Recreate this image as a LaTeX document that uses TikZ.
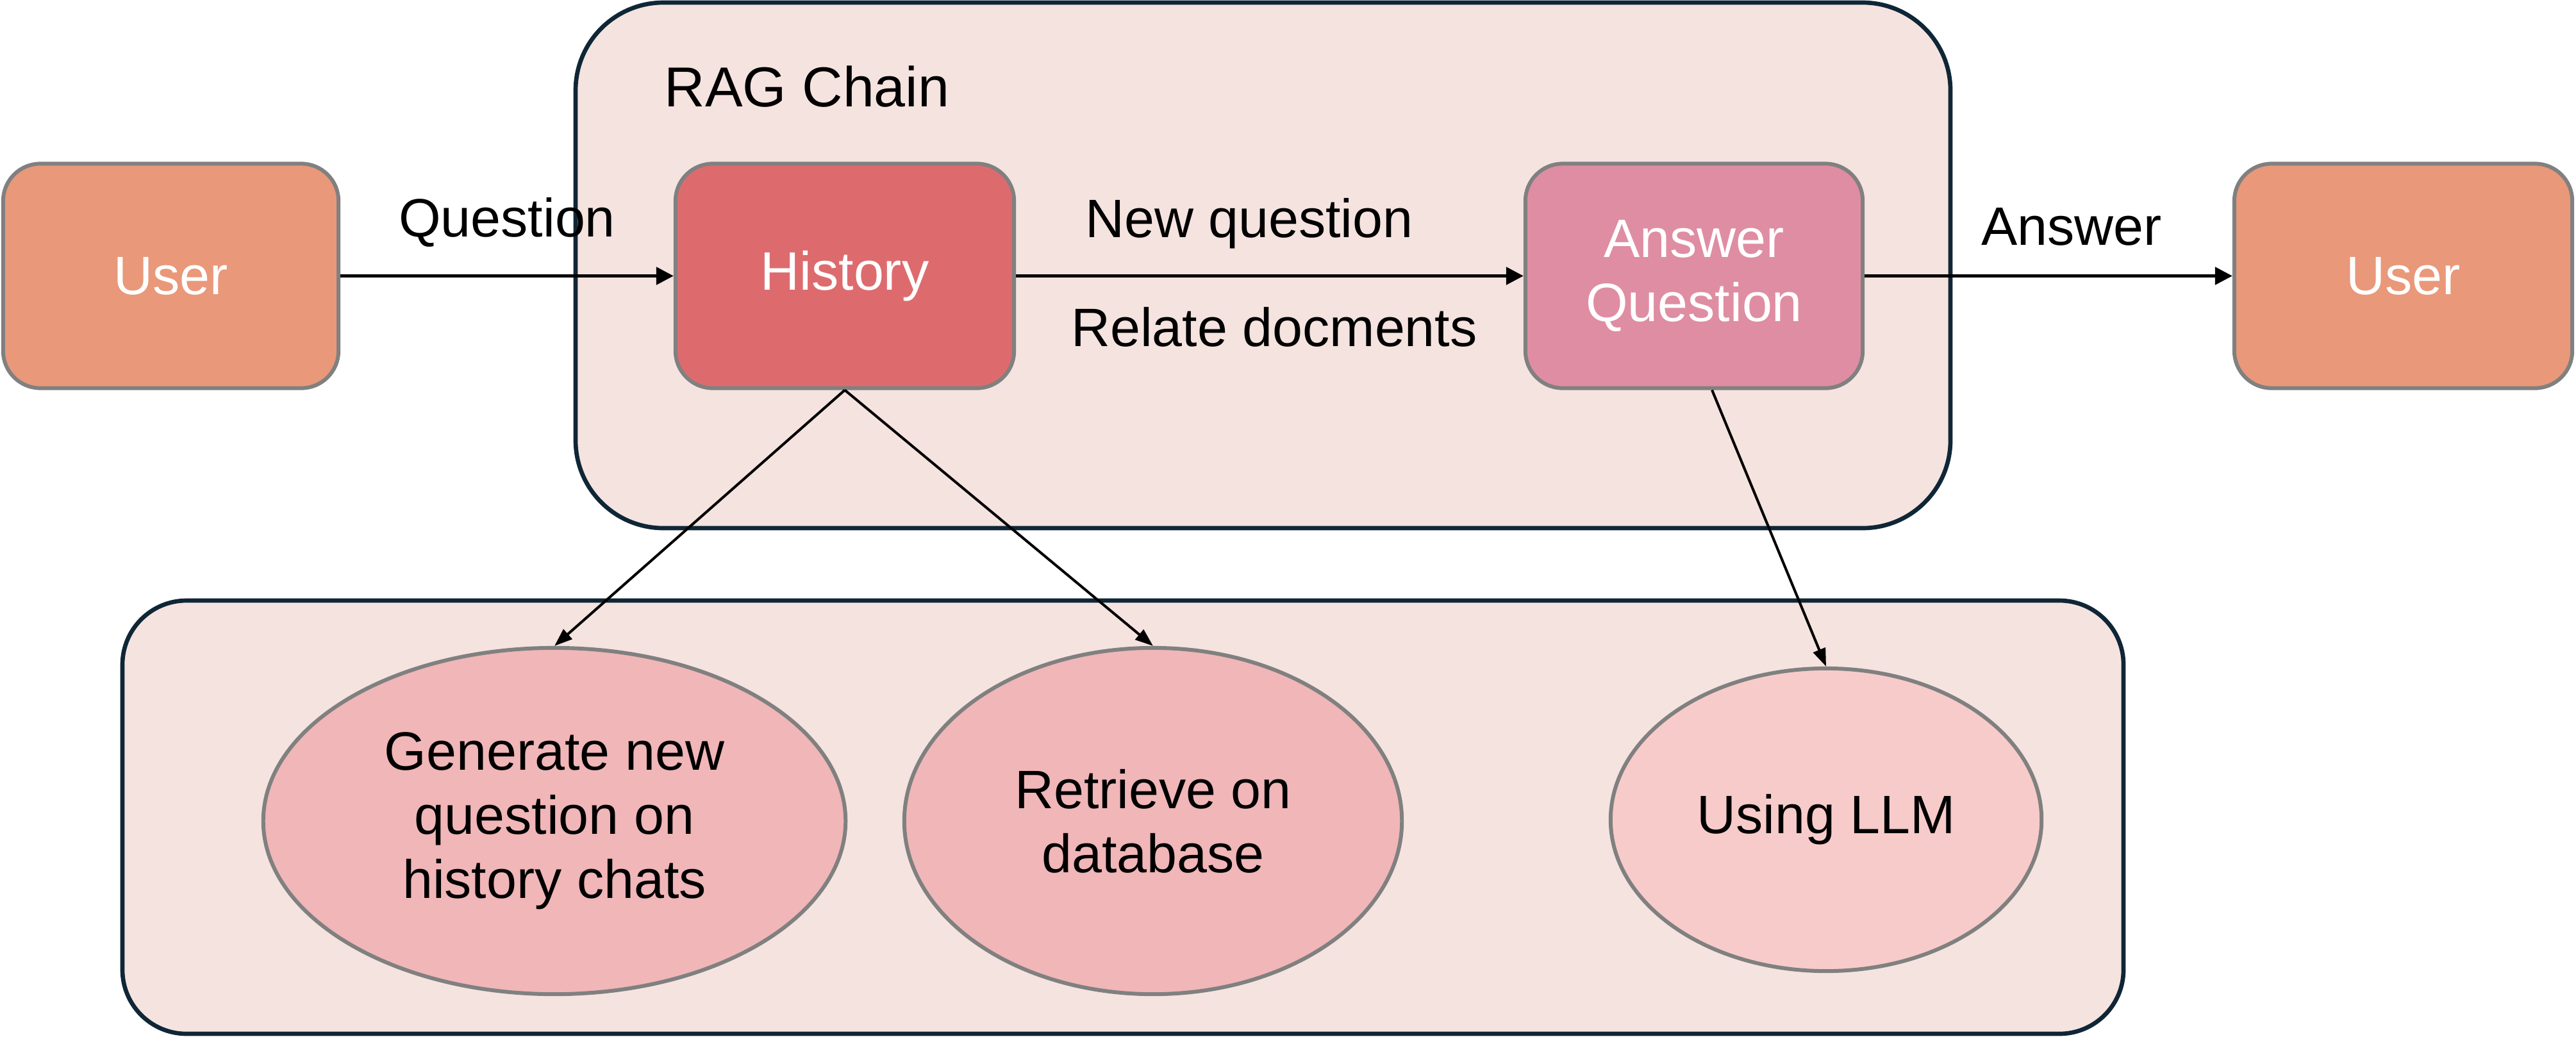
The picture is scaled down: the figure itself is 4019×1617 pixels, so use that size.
\documentclass[tikz,border=0pt]{standalone}
\usepackage{fontspec}
\setmainfont{Liberation Sans}
\usetikzlibrary{shapes.geometric,arrows.meta}
\definecolor{usercol}{HTML}{E9987A}
\definecolor{histcol}{HTML}{DD6B6E}
\definecolor{aqcol}{HTML}{DF8DA3}
\definecolor{contcol}{HTML}{F5E3DF}
\definecolor{contline}{HTML}{0F2636}
\definecolor{ellcol}{HTML}{F0B6B8}
\definecolor{ellcolb}{HTML}{F7CBC9}
\definecolor{boxline}{HTML}{808080}
\tikzset{
  txt/.style={font=\fontsize{24}{28.5}\selectfont},
  box/.style={draw=boxline, line width=1.7pt, rounded corners=0.58cm, minimum height=3.5cm, inner sep=0pt, text=white, align=center, txt},
  cont/.style={draw=contline, fill=contcol, line width=1.9pt},
  ell/.style={ellipse, draw=boxline, line width=1.7pt, inner sep=0pt, align=center, txt},
  lbl/.style={anchor=base, inner sep=0pt, txt},
  mainarrow/.style={line width=1.45pt, -{Triangle[length=0.27cm, width=0.27cm]}},
  diagarrow/.style={line width=1.15pt, -{Triangle[length=0.28cm, width=0.2cm]}}
}
\begin{document}
\begin{tikzpicture}[x=0.01cm, y=-0.01cm]
\useasboundingbox (0,0) rectangle (4019,1617);
% containers
\draw[cont, rounded corners=1.37cm] (898,4) rectangle (3043,824);
\draw[cont, rounded corners=1.0cm] (191,937) rectangle (3313,1613);
\node[anchor=west, inner sep=0pt, txt, font=\fontsize{25}{28}\selectfont] (ragtitle) at (1036,135) {RAG Chain};
% boxes
\node[box, fill=usercol, minimum width=5.23cm] (userL) at (266.5,430.5) {User};
\node[box, fill=histcol, minimum width=5.28cm] (hist) at (1318,430.5) {History};
\node[box, fill=aqcol, minimum width=5.26cm] (aq) at (2643,430.5) {Answer\\Question};
\node[box, fill=usercol, minimum width=5.27cm] (userR) at (3749.5,430.5) {User};
% ellipses
\node[ell, fill=ellcol, minimum width=9.08cm, minimum height=5.4cm] (e1) at (865,1281) {Generate new\\question on\\history chats};
\node[ell, fill=ellcol, minimum width=7.76cm, minimum height=5.4cm] (e2) at (1799,1281) {Retrieve on\\database};
\node[ell, fill=ellcolb, minimum width=6.72cm, minimum height=4.72cm] (e3) at (2849,1279) {Using LLM};
% labels
\node[lbl] (lq) at (791,369) {Question};
\node[lbl] (lnq) at (1949,370) {New question};
\node[lbl] (lrd) at (1988,540) {Relate docments};
\node[lbl] (la) at (3232,382) {Answer};
% connectors
\draw[mainarrow] (userL.east) -- (hist.west);
\draw[mainarrow] (hist.east) -- (aq.west);
\draw[mainarrow] (aq.east) -- (userR.west);
\draw[diagarrow] (hist.south) -- (e1.north);
\draw[diagarrow] (hist.south) -- (e2.north);
\draw[diagarrow] ([xshift=0.28cm]aq.south) -- (e3.north);
\end{tikzpicture}
\end{document}
